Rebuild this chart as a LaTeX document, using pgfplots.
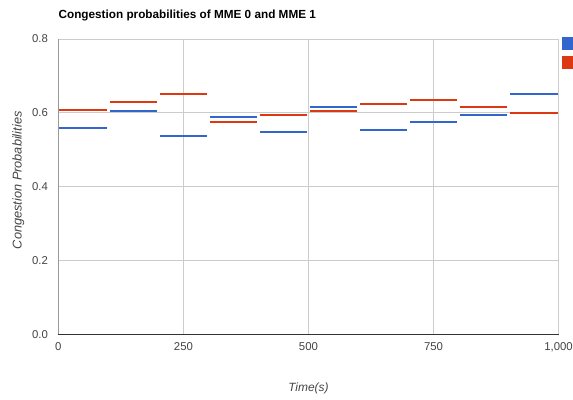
\documentclass[border=0pt]{standalone}
\usepackage{pgfplots}
\pgfplotsset{compat=1.18}
\usepackage{fontspec}
\setmainfont{Liberation Sans}
\definecolor{gblue}{HTML}{3366CC}
\definecolor{gred}{HTML}{DC3912}
\definecolor{gridc}{HTML}{CCCCCC}
\definecolor{ticktext}{HTML}{444444}
\begin{document}
\begin{tikzpicture}[x=1bp,y=1bp]
\begin{axis}[
  at={(58.4bp,65.5bp)}, anchor=south west,
  scale only axis, width=500.1bp, height=295.5bp,
  xmin=0, xmax=1000, ymin=0, ymax=0.8,
  xtick={0,250,500,750,1000}, ytick={0,0.2,0.4,0.6,0.8},
  /pgf/number format/assume math mode=true,
  /pgf/number format/1000 sep={,},
  yticklabel style={/pgf/number format/fixed,/pgf/number format/precision=1,/pgf/number format/fixed zerofill},
  scaled y ticks=false,
  tick label style={font=\fontsize{11.4}{13}\selectfont, text=ticktext},
  xticklabel style={yshift=-5bp},
  yticklabel style={xshift=-7bp},
  major tick length=0pt,
  grid=major, major grid style={gridc, line width=0.8bp},
  axis line style={draw=none},
  unbounded coords=jump,
  xlabel={\itshape Time(s)}, ylabel={\itshape Congestion Probabilities},
  label style={font=\fontsize{12}{14}\selectfont, text=ticktext},
  xlabel style={at={(axis description cs:0.5,0)}, anchor=center, yshift=-54bp},
  ylabel style={at={(axis description cs:0,0.5)}, anchor=center, rotate=0, yshift=40bp, xshift=6.5bp, font=\fontsize{12.8}{14}\selectfont},
  legend style={at={(rel axis cs:1,1)}, anchor=north west, xshift=3.5bp, yshift=2bp, draw=none, fill=none,
    font=\fontsize{11.2}{13}\selectfont, row sep=6bp, inner sep=0pt, outer sep=0pt},
  legend cell align=left,
  legend image code/.code={\fill[#1] (0bp,-5.5bp) rectangle (11bp,5.5bp);},
  clip=false,
]
% axis baselines
\addplot[draw=gray!80, line width=0.8bp, forget plot] coordinates {(0,0) (0,0.8)};
\addplot[draw=black!80, line width=1bp, forget plot] coordinates {(0,0) (1000,0)};
\addplot[gblue, line width=2bp, fill=gblue] coordinates {
 (1,0.560) (98,0.560) (99,nan)
 (103,0.605) (198,0.605) (199,nan)
 (203,0.538) (298,0.538) (299,nan)
 (303,0.588) (398,0.588) (399,nan)
 (403,0.547) (498,0.547) (499,nan)
 (503,0.615) (598,0.615) (599,nan)
 (603,0.554) (698,0.554) (699,nan)
 (703,0.576) (798,0.576) (799,nan)
 (803,0.593) (898,0.593) (899,nan)
 (903,0.651) (998,0.651)
};
\addlegendentry{}
\addplot[gred, line width=2bp, fill=gred] coordinates {
 (1,0.607) (98,0.607) (99,nan)
 (103,0.629) (198,0.629) (199,nan)
 (203,0.652) (298,0.652) (299,nan)
 (303,0.574) (398,0.574) (399,nan)
 (403,0.595) (498,0.595) (499,nan)
 (503,0.605) (598,0.605) (599,nan)
 (603,0.623) (698,0.623) (699,nan)
 (703,0.634) (798,0.634) (799,nan)
 (803,0.615) (898,0.615) (899,nan)
 (903,0.600) (998,0.600)
};
\addlegendentry{}
\end{axis}
\node[anchor=base west, font=\fontsize{11.8}{14}\selectfont\bfseries, inner sep=0pt] at (58.4bp,381.5bp) {Congestion probabilities of MME 0 and MME 1};
\pgfresetboundingbox
\useasboundingbox (0,0) rectangle (573bp,400bp);
\end{tikzpicture}
\end{document}
